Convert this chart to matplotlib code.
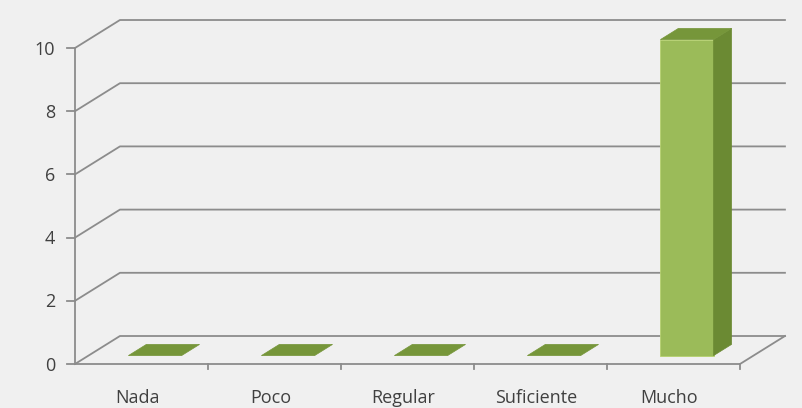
import matplotlib.pyplot as plt
from matplotlib.patches import Polygon

categorias = ['Nada', 'Poco', 'Regular', 'Suficiente', 'Mucho']
valores = [0, 0, 0, 0, 10]
ticks_y = [0, 2, 4, 6, 8, 10]

# profundidad del efecto 3D (en unidades de datos)
dx, dy = 0.338, 0.886
ancho = 0.4
f0, f1 = 0.3, 0.7   # posicion de la barra dentro de la profundidad

fondo = '#F0F0F0'
gris = '#8C8C8C'
texto = '#404040'

fig = plt.figure(figsize=(8.03, 4.08), dpi=100, facecolor=fondo)
ax = fig.add_axes([0, 0, 1, 1])
ax.set_facecolor(fondo)
n = len(categorias)
ax.set_xlim(-0.5 - 75 / 133, n - 0.5 + 63 / 133)
ax.set_ylim(-44 / 31.6, 364 / 31.6)
ax.axis('off')

x0, x1 = -0.5, n - 0.5
# pared izquierda + pared del fondo
for t in ticks_y:
    ax.plot([x0, x0 + dx, x1 + dx], [t, t + dy, t + dy], color=gris, lw=1.3, zorder=1)
    ax.plot([x0 - 0.06, x0], [t, t], color=gris, lw=1.3, zorder=1)
    ax.text(x0 - 0.15, t - 0.05, str(t), ha='right', va='center', fontsize=13,
            color=texto, family='Open Sans')
# eje vertical y piso
ax.plot([x0, x0], [0, ticks_y[-1]], color=gris, lw=1.3, zorder=1)
ax.plot([x0, x1, x1 + dx], [0, 0, dy], color=gris, lw=1.3, zorder=1)
for i in range(n):
    ax.plot([i + 0.5, i + 0.5], [0, -0.16], color=gris, lw=1.3, zorder=1)

for i, (c, v) in enumerate(zip(categorias, valores)):
    xl = i - ancho / 2 + f0 * dx
    xr = i + ancho / 2 + f0 * dx
    yb = f0 * dy
    ex, ey = (f1 - f0) * dx, (f1 - f0) * dy
    if v > 0:
        ax.add_patch(Polygon([(xl, yb), (xr, yb), (xr, yb + v), (xl, yb + v)],
                             closed=True, fc='#9BBB59', ec='#B5D16E', lw=0.6, zorder=3))
        ax.add_patch(Polygon([(xr, yb), (xr + ex, yb + ey), (xr + ex, yb + v + ey), (xr, yb + v)],
                             closed=True, fc='#6B8A33', ec='#6B8A33', lw=0.5, zorder=3))
    ax.add_patch(Polygon([(xl, yb + v), (xr, yb + v), (xr + ex, yb + v + ey), (xl + ex, yb + v + ey)],
                         closed=True, fc='#76963A', ec='#76963A', lw=0.5, zorder=4))
    ax.text(i - 0.03, -1.08, c, ha='center', va='center', fontsize=13, color=texto,
            family='Open Sans')

fig.savefig('out.png', dpi=100, facecolor=fondo)
